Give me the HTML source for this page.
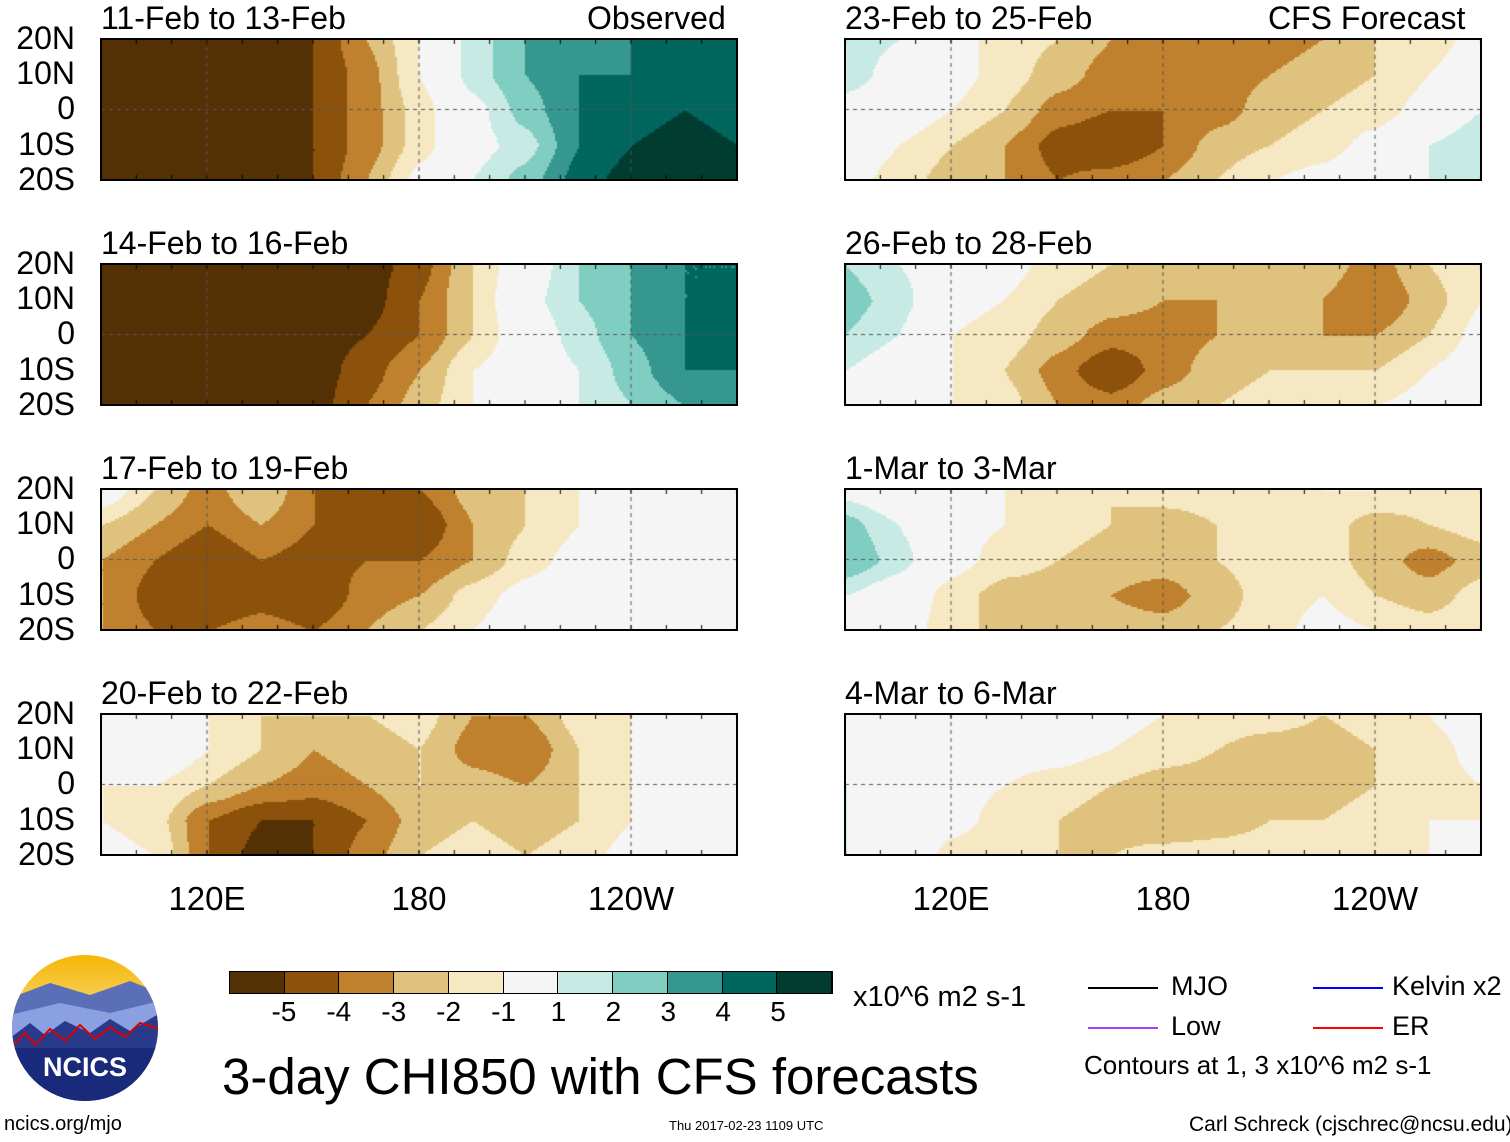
<!DOCTYPE html>
<html><head><meta charset="utf-8">
<style>
body{margin:0;background:#fff;width:1510px;height:1142px;position:relative;overflow:hidden;font-family:"Liberation Sans",sans-serif;color:#000}
.t{position:absolute;white-space:nowrap;line-height:1}
canvas{position:absolute}
.frame{position:absolute;border:2px solid #000;box-sizing:border-box}
</style></head><body>
<div id="root"></div>
<script>
// ---- data ----
const lons=[90,105,120,135,150,165,180,195,210,225,240,255,270];
const lats=[20,10,0,-10,-20];
const levels=[-5,-4,-3,-2,-1,1,2,3,4,5];
const colors=["#543005","#8c510a","#bf812d","#dfc27d","#f6e8c3","#f5f5f5","#c7eae5","#80cdc1","#35978f","#01665e","#003c30"];
const tickLabels=["-5","-4","-3","-2","-1","1","2","3","4","5"];
const titles=["11-Feb to 13-Feb","14-Feb to 16-Feb","17-Feb to 19-Feb","20-Feb to 22-Feb","23-Feb to 25-Feb","26-Feb to 28-Feb","1-Mar to 3-Mar","4-Mar to 6-Mar"];
const p1=[[-5.5,-5.5,-5.5,-5.5,-5,-3,-1,1.5,3,3.5,4,4,4],[-5.5,-5.5,-5.5,-5.5,-5,-3.5,-1,1.5,3,4,4,4.5,4],[-5,-5.5,-5.5,-5.5,-5,-3.5,-1.5,0.5,2.5,4,4.5,5,4.5],[-5.5,-5.5,-5.5,-5.5,-5,-3.5,-1.5,0.5,1.5,4,5,5.5,5],[-5.5,-5.5,-5.5,-5.5,-5,-3,-0.5,1,2.5,4.5,5.5,5.5,5]];
const p2=[[-5.5,-5.5,-5.5,-5.5,-5.5,-5.5,-4.5,-2,0,2,3,4,4],[-5.5,-5.5,-5.5,-5.5,-5.5,-5.5,-4,-2,0.5,2,3,4,4],[-5.5,-5.5,-5.5,-5.5,-5.5,-5,-4,-2,0,1.5,3,4,4.5],[-5.5,-5.5,-5.5,-5.5,-5.5,-4.5,-3,-1,0,1,2.5,4,4],[-5.5,-5.5,-5.5,-5.5,-5.5,-4,-2.5,-1,0,1,2,3,3]];
const p3=[[0,-2,-3.5,-2,-4,-5,-4,-2.5,-2,-1,0,0,0],[-2,-3,-4,-3,-4,-4.5,-5,-3,-2,-1,0,0,0],[-3,-4,-5,-4,-4.5,-4,-4,-3,-1.5,-0.5,0,0,-0.5],[-3,-4.5,-5,-4.5,-5,-3.5,-3,-1.5,-0.5,0,0,0,-0.5],[-3,-4,-4,-3.5,-4,-3,-2,-1,0,0,0,0,0]];
const p4=[[0,0,-1,-2,-2,-2,-1.5,-3,-3,-1.5,-1,0,0],[0,0.5,-1,-2,-3,-2.5,-2,-3.5,-4,-2,-1,-0.5,0],[-1,-1,-2,-3,-3.5,-3,-2,-2.5,-3,-2,-1,-1,0.5],[-1,-1.5,-4,-5,-5,-4,-2.5,-2,-2.5,-2,-1,-0.5,1],[-0.5,-1,-4,-5.5,-5,-3.5,-2,-1.5,-2,-1.5,-0.5,0,1]];
const p5=[[1.5,1,-0.5,-1.5,-2,-3,-3.5,-4,-3.5,-3,-2,-1.5,-0.5],[1.5,0.5,-0.5,-1.5,-2.5,-3.5,-4,-3.5,-3,-2.5,-2,-1,0],[0.5,0,-1,-2,-3.5,-4,-4,-3.5,-2.5,-2,-1.5,-0.5,1],[0,-1,-2,-3,-4.5,-5,-4,-2.5,-2,-1.5,-0.5,1,2],[-0.5,-1.5,-2.5,-3,-4,-3.5,-3,-2,-1,-0.5,0.5,1,2]];
const p6=[[2,1,0,-0.5,-1.5,-2,-2.5,-3,-2.5,-2.5,-3.5,-2,-1],[2.5,1.5,-0.5,-1,-2,-2.5,-3,-3,-2.5,-3,-4,-2.5,-1],[2,1,-1,-1.5,-2.5,-3.5,-3.5,-3,-2.5,-3,-3,-2,-0.5],[1,0,-1,-2,-3.5,-5,-3.5,-2.5,-2,-2,-2,-1,0],[0,-0.5,-1,-1.5,-3,-3.5,-2.5,-2,-1.5,-1.5,-1,-0.5,0]];
const p7=[[0.5,-0.5,-0.5,-1,-1.5,-2,-1.5,-1.5,-1.5,-1,-1,-1.5,-1.5],[2.5,1,-0.5,-1,-1.5,-2,-2.5,-2,-1,-1.5,-2.5,-2,-1.5],[3,1.5,-0.5,-1.5,-2,-2.5,-2.5,-2,-1.5,-1.5,-2.5,-3.5,-2.5],[1,0,-1.5,-2.5,-2.5,-3,-3.5,-2.5,-1.5,-1,-2,-2.5,-1.5],[0,-0.5,-1.5,-2.5,-2.5,-2.5,-2.5,-2,-1.5,-0.5,-1,-1.5,-1]];
const p8=[[0,0,0,0,0,-0.5,-1,-1.5,-1.5,-2,-1.5,-1,0],[0,0,0,-0.5,-0.5,-1,-1.5,-2,-2.5,-2.5,-2,-1.5,-0.5],[1,0,-0.5,-1,-1.5,-2,-2.5,-2.5,-2.5,-2.5,-2,-1.5,-1],[1,0,-0.5,-1.5,-2,-2.5,-3,-2.5,-2,-2,-1.5,-1,-1],[1,0.5,-1.5,-2,-2,-2,-1.5,-1.5,-1.5,-1.5,-1,-1,-0.5]];
const fields=[p1,p2,p3,p4,p5,p6,p7,p8];

// ---- layout ----
const PW=636,PH=141;
const colX=[101,845],rowY=[39,264,489,714];
function txt(s,x,y,size,name,extra){const d=document.createElement('div');d.className='t';d.textContent=s;d.style.left=x+'px';d.style.top=y+'px';d.style.fontSize=size+'px';if(extra)Object.assign(d.style,extra);


document.body.appendChild(d);return d;}
function xScale(lon){return (lon-90)/180*PW;}
function yScale(lat){return (20-lat)/40*PH;}
function colorFor(v){let i=0;while(i<levels.length&&v>=levels[i])i++;return colors[i];}
function sample(f,lon,lat){
  let fx=(lon-lons[0])/15, fy=(lats[0]-lat)/10;
  fx=Math.max(0,Math.min(lons.length-1.0001,fx));fy=Math.max(0,Math.min(lats.length-1.0001,fy));
  const i=Math.floor(fx),j=Math.floor(fy),a=fx-i,b=fy-j;
  const s=t=>t*t*(3-2*t);const A=a*0.6+s(a)*0.4,B=b*0.6+s(b)*0.4;
  return f[j][i]*(1-A)*(1-B)+f[j][i+1]*A*(1-B)+f[j+1][i]*(1-A)*B+f[j+1][i+1]*A*B;
}
fields.forEach((f,k)=>{
  const x0=colX[k<4?0:1],y0=rowY[k%4];
  const c=document.createElement('canvas');c.width=PW;c.height=PH;c.style.left=x0+'px';c.style.top=y0+'px';
  
  
  document.body.appendChild(c);
  const g=c.getContext('2d');
  for(let px=0;px<PW;px+=2)for(let py=0;py<PH;py+=2){
    const lon=90+px/PW*180,lat=20-py/PH*40;
    g.fillStyle=colorFor(sample(f,lon,lat));g.fillRect(px,py,2,2);
  }
  g.strokeStyle='#555';g.setLineDash([4,4]);g.lineWidth=1;
  g.beginPath();g.moveTo(0,yScale(0));g.lineTo(PW,yScale(0));
  [120,180,240].forEach(l=>{g.moveTo(xScale(l),0);g.lineTo(xScale(l),PH);});g.stroke();
  g.setLineDash([]);g.strokeStyle='#000';
  for(let l=90;l<=270;l+=10){const x=xScale(l);g.beginPath();g.moveTo(x,0);g.lineTo(x,5);g.moveTo(x,PH);g.lineTo(x,PH-5);g.stroke();}
  const fr=document.createElement('div');fr.className='frame';Object.assign(fr.style,{left:(x0-1)+'px',top:(y0-1)+'px',width:(PW+2)+'px',height:(PH+2)+'px'});
  
  
  document.body.appendChild(fr);
  txt(titles[k],x0,y0-37,32,'panel-title-'+(k+1));
  if(k<4){["20N","10N","0","10S","20S"].forEach((s,i)=>txt(s,0,y0-17+i*35.2,32,'lat-label',{width:'75px',textAlign:'right'}));}
  if(k===0)txt("Observed",x0+PW-150,y0-37,32,'observed-label');
  if(k===4)txt("CFS Forecast",x0+PW-213,y0-37,32,'forecast-label');
});
[0,1].forEach(c=>{[["120E",120],["180",180],["120W",240]].forEach(([s,l])=>txt(s,colX[c]+xScale(l)-60,882,33,'lon-label-'+s,{width:'120px',textAlign:'center'}));});

// colorbar
const cb=document.createElement('div');cb.style.cssText='position:absolute;left:229px;top:971px;width:604px;height:23px;display:flex;border:1px solid #000;box-sizing:border-box';


colors.forEach(cl=>{const s=document.createElement('div');s.style.cssText='flex:1;border-right:1px solid #000;background:'+cl;


cb.appendChild(s);});
document.body.appendChild(cb);
tickLabels.forEach((s,i)=>txt(s,229+(i+1)*604/11-30,998,28,'colorbar-tick',{width:'60px',textAlign:'center'}));
txt("x10^6 m2 s-1",853,983,29,'colorbar-units');
txt("3-day CHI850 with CFS forecasts",222,1051,51,'main-title');
txt("ncics.org/mjo",4,1114,20,'site-link');
txt("Thu 2017-02-23 1109 UTC",669,1119,13,'timestamp');
txt("Carl Schreck (cjschrec@ncsu.edu)",1189,1114,21,'author-credit');
function leg(x,y,color,label,lx){const l=document.createElement('div');l.style.cssText=`position:absolute;left:${x}px;top:${y}px;width:70px;height:2px;background:${color}`;


document.body.appendChild(l);txt(label,lx,y-14,27,'legend-label');}
leg(1088,987,'#000','MJO',1171);leg(1088,1027,'#a040ff','Low',1171);
leg(1313,987,'#0000ff','Kelvin x2',1392);leg(1313,1027,'#ff0000','ER',1392);
txt("Contours at 1, 3 x10^6 m2 s-1",1084,1052,26,'contour-note');
</script>
<svg style="position:absolute;left:10px;top:953px" width="150" height="150">
<defs><clipPath id="cc"><circle cx="75" cy="75" r="73"/></clipPath><linearGradient id="sky" x1="0" y1="0" x2="0" y2="1"><stop offset="0" stop-color="#f7b500"/><stop offset="0.35" stop-color="#f5d060"/></linearGradient></defs>
<g clip-path="url(#cc)"><rect width="150" height="150" fill="url(#sky)"/>
<path d="M0 45 L40 30 L80 42 L120 28 L150 40 V150 H0Z" fill="#5a6fb8"/>
<path d="M0 62 L50 50 L100 60 L150 48 V150 H0Z" fill="#8aa0e0"/>
<path d="M0 85 L20 70 L35 82 L55 68 L80 80 L100 66 L120 78 L150 60 V150 H0Z" fill="#2a3a8a"/>
<polyline points="0,95 15,80 25,92 40,76 55,88 70,72 85,86 100,74 115,84 130,70 150,76" fill="none" stroke="#d00" stroke-width="2"/>
<rect y="95" width="150" height="60" fill="#1a2a7a"/></g>
<text x="75" y="123" text-anchor="middle" font-family="Liberation Sans" font-weight="bold" font-size="27" fill="#fff">NCICS</text>
</svg>
</body></html>
